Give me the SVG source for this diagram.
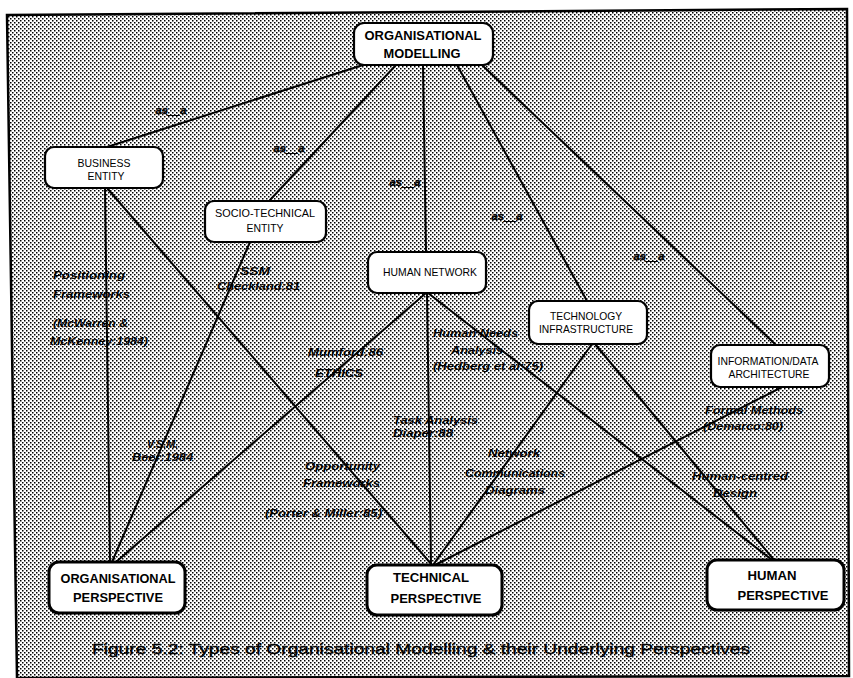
<svg xmlns="http://www.w3.org/2000/svg" width="853" height="678" viewBox="0 0 853 678">
  <defs>
    <!-- halftone screen used as the panel background -->
    <pattern id="screen" x="0" y="0" width="4" height="4" patternUnits="userSpaceOnUse">
      <rect width="4" height="4" fill="#ffffff"/>
      <rect x="0" y="0" width="1.5" height="1.5" fill="#000"/>
      <rect x="2" y="2" width="1.5" height="1.5" fill="#000"/>
    </pattern>
  </defs>
  <style>
    .node rect { fill: #fff; stroke: #000; stroke-width: 2.2; }
    .persp rect { stroke-width: 3; }
    .edges line { stroke: #000; stroke-width: 2; stroke-linecap: round; }
    text { font-family: "Liberation Sans", Arial, sans-serif; fill: #000; text-anchor: middle; }
    .big { font-size: 12.5px; font-weight: bold; }
    .small { font-size: 10.5px; }
    .lab { font-size: 11.5px; font-weight: bold; font-style: italic; text-anchor: start; }
    .lab2 { font-size: 10px; font-weight: bold; font-style: italic; text-anchor: start; }
    .isa { font-size: 10px; font-weight: bold; font-style: italic; stroke: #000; stroke-width: 0.4; }
    .cap { font-size: 15px; stroke: #000; stroke-width: 0.35; text-anchor: start; }
  </style>

  <rect width="853" height="678" fill="#fff"/>
  <!-- outer panel -->
  <polygon points="7,15 847,9 849,676 17,678" fill="url(#screen)" stroke="#000" stroke-width="2.5"/>

  <g class="edges">
    <line x1="363" y1="65" x2="107" y2="147"/>
    <line x1="396" y1="65" x2="270" y2="200"/>
    <line x1="423" y1="65" x2="426" y2="252"/>
    <line x1="457" y1="65" x2="587" y2="301"/>
    <line x1="482" y1="65" x2="776" y2="345"/>
    <line x1="105" y1="188" x2="110" y2="562"/>
    <line x1="107" y1="188" x2="432" y2="565"/>
    <line x1="250" y1="242" x2="112" y2="562"/>
    <line x1="426" y1="293" x2="116" y2="562"/>
    <line x1="427" y1="293" x2="431" y2="565"/>
    <line x1="428" y1="293" x2="772" y2="560"/>
    <line x1="592" y1="344" x2="433" y2="565"/>
    <line x1="595" y1="344" x2="774" y2="560"/>
    <line x1="782" y1="387" x2="435" y2="565"/>
  </g>

  <!-- edge labels -->
  <g id="edge-labels">
    <text class="isa" x="171" y="114" textLength="31" lengthAdjust="spacingAndGlyphs">as__a</text>
    <text class="isa" x="289" y="152" textLength="31" lengthAdjust="spacingAndGlyphs">as__a</text>
    <text class="isa" x="405" y="186" textLength="31" lengthAdjust="spacingAndGlyphs">as__a</text>
    <text class="isa" x="507" y="220" textLength="31" lengthAdjust="spacingAndGlyphs">as__a</text>
    <text class="isa" x="649" y="260" textLength="31" lengthAdjust="spacingAndGlyphs">as__a</text>

    <text class="lab" x="53" y="279" textLength="72" lengthAdjust="spacingAndGlyphs">Positioning</text>
    <text class="lab" x="53" y="298" textLength="77" lengthAdjust="spacingAndGlyphs">Frameworks</text>
    <text class="lab" x="53" y="327" textLength="75" lengthAdjust="spacingAndGlyphs">(McWarren &amp;</text>
    <text class="lab" x="50" y="345" textLength="98" lengthAdjust="spacingAndGlyphs">McKenney:1984)</text>

    <text class="lab" x="240" y="275" textLength="30" lengthAdjust="spacingAndGlyphs">SSM</text>
    <text class="lab" x="217" y="290" textLength="83" lengthAdjust="spacingAndGlyphs">Checkland:81</text>

    <text class="lab" x="308" y="356" textLength="75" lengthAdjust="spacingAndGlyphs">Mumford:86</text>
    <text class="lab" x="315" y="377" textLength="48" lengthAdjust="spacingAndGlyphs">ETHICS</text>

    <text class="lab" x="147" y="448" textLength="31" lengthAdjust="spacingAndGlyphs">V.S.M.</text>
    <text class="lab" x="132" y="461" textLength="61" lengthAdjust="spacingAndGlyphs">Beer:1984</text>

    <text class="lab" x="433" y="337" textLength="85" lengthAdjust="spacingAndGlyphs">Human Needs</text>
    <text class="lab" x="451" y="354" textLength="52" lengthAdjust="spacingAndGlyphs">Analysis</text>
    <text class="lab" x="433" y="370" textLength="110" lengthAdjust="spacingAndGlyphs">(Hedberg et al:75)</text>

    <text class="lab2" x="393" y="424" textLength="85" lengthAdjust="spacingAndGlyphs">Task Analysis</text>
    <text class="lab2" x="393" y="437" textLength="60" lengthAdjust="spacingAndGlyphs">Diaper:88</text>

    <text class="lab" x="305" y="470" textLength="75" lengthAdjust="spacingAndGlyphs">Opportunity</text>
    <text class="lab" x="303" y="487" textLength="77" lengthAdjust="spacingAndGlyphs">Frameworks</text>
    <text class="lab" x="265" y="517" textLength="117" lengthAdjust="spacingAndGlyphs">(Porter &amp; Miller:85)</text>

    <text class="lab" x="488" y="457" textLength="52" lengthAdjust="spacingAndGlyphs">Network</text>
    <text class="lab" x="465" y="477" textLength="100" lengthAdjust="spacingAndGlyphs">Communications</text>
    <text class="lab" x="485" y="494" textLength="60" lengthAdjust="spacingAndGlyphs">Diagrams</text>

    <text class="lab" x="705" y="414" textLength="98" lengthAdjust="spacingAndGlyphs">Formal Methods</text>
    <text class="lab" x="703" y="430" textLength="80" lengthAdjust="spacingAndGlyphs">(Demarco:80)</text>

    <text class="lab" x="692" y="480" textLength="96" lengthAdjust="spacingAndGlyphs">Human-centred</text>
    <text class="lab" x="713" y="497" textLength="44" lengthAdjust="spacingAndGlyphs">Design</text>
  </g>

  <!-- nodes -->
  <g id="organisational-modelling" class="node">
    <rect x="354" y="23" width="139" height="42" rx="10"/>
    <text class="big" x="423" y="40" textLength="117" lengthAdjust="spacingAndGlyphs">ORGANISATIONAL</text>
    <text class="big" x="422" y="58" textLength="77" lengthAdjust="spacingAndGlyphs">MODELLING</text>
  </g>

  <g id="business-entity" class="node">
    <rect x="45" y="147" width="118" height="41" rx="9"/>
    <text class="small" x="104" y="167" textLength="53" lengthAdjust="spacingAndGlyphs">BUSINESS</text>
    <text class="small" x="106" y="180" textLength="37" lengthAdjust="spacingAndGlyphs">ENTITY</text>
  </g>

  <g id="socio-technical-entity" class="node">
    <rect x="205" y="201" width="121" height="41" rx="9"/>
    <text class="small" x="265" y="217" textLength="100" lengthAdjust="spacingAndGlyphs">SOCIO-TECHNICAL</text>
    <text class="small" x="265" y="232" textLength="37" lengthAdjust="spacingAndGlyphs">ENTITY</text>
  </g>

  <g id="human-network" class="node">
    <rect x="368" y="252" width="118" height="41" rx="9"/>
    <text class="small" x="430" y="276" textLength="94" lengthAdjust="spacingAndGlyphs">HUMAN NETWORK</text>
  </g>

  <g id="technology-infrastructure" class="node">
    <rect x="529" y="301" width="118" height="43" rx="9"/>
    <text class="small" x="586" y="320" textLength="72" lengthAdjust="spacingAndGlyphs">TECHNOLOGY</text>
    <text class="small" x="586" y="333" textLength="94" lengthAdjust="spacingAndGlyphs">INFRASTRUCTURE</text>
  </g>

  <g id="information-data-architecture" class="node">
    <rect x="711" y="345" width="118" height="42" rx="9"/>
    <text class="small" x="768" y="365" textLength="101" lengthAdjust="spacingAndGlyphs">INFORMATION/DATA</text>
    <text class="small" x="769" y="378" textLength="81" lengthAdjust="spacingAndGlyphs">ARCHITECTURE</text>
  </g>

  <g id="organisational-perspective" class="node persp">
    <rect x="49" y="562" width="136" height="51" rx="10"/>
    <text class="big" x="118" y="583" textLength="115" lengthAdjust="spacingAndGlyphs">ORGANISATIONAL</text>
    <text class="big" x="118" y="602" textLength="90" lengthAdjust="spacingAndGlyphs">PERSPECTIVE</text>
  </g>

  <g id="technical-perspective" class="node persp">
    <rect x="367" y="565" width="135" height="50" rx="10"/>
    <text class="big" x="431" y="582" textLength="76" lengthAdjust="spacingAndGlyphs">TECHNICAL</text>
    <text class="big" x="436" y="603" textLength="91" lengthAdjust="spacingAndGlyphs">PERSPECTIVE</text>
  </g>

  <g id="human-perspective" class="node persp">
    <rect x="707" y="560" width="137" height="50" rx="10"/>
    <text class="big" x="772" y="580" textLength="49" lengthAdjust="spacingAndGlyphs">HUMAN</text>
    <text class="big" x="783" y="600" textLength="91" lengthAdjust="spacingAndGlyphs">PERSPECTIVE</text>
  </g>

  <text class="cap" x="92" y="654" textLength="658" lengthAdjust="spacingAndGlyphs">Figure 5.2: Types of Organisational Modelling &amp; their Underlying Perspectives</text>
</svg>
